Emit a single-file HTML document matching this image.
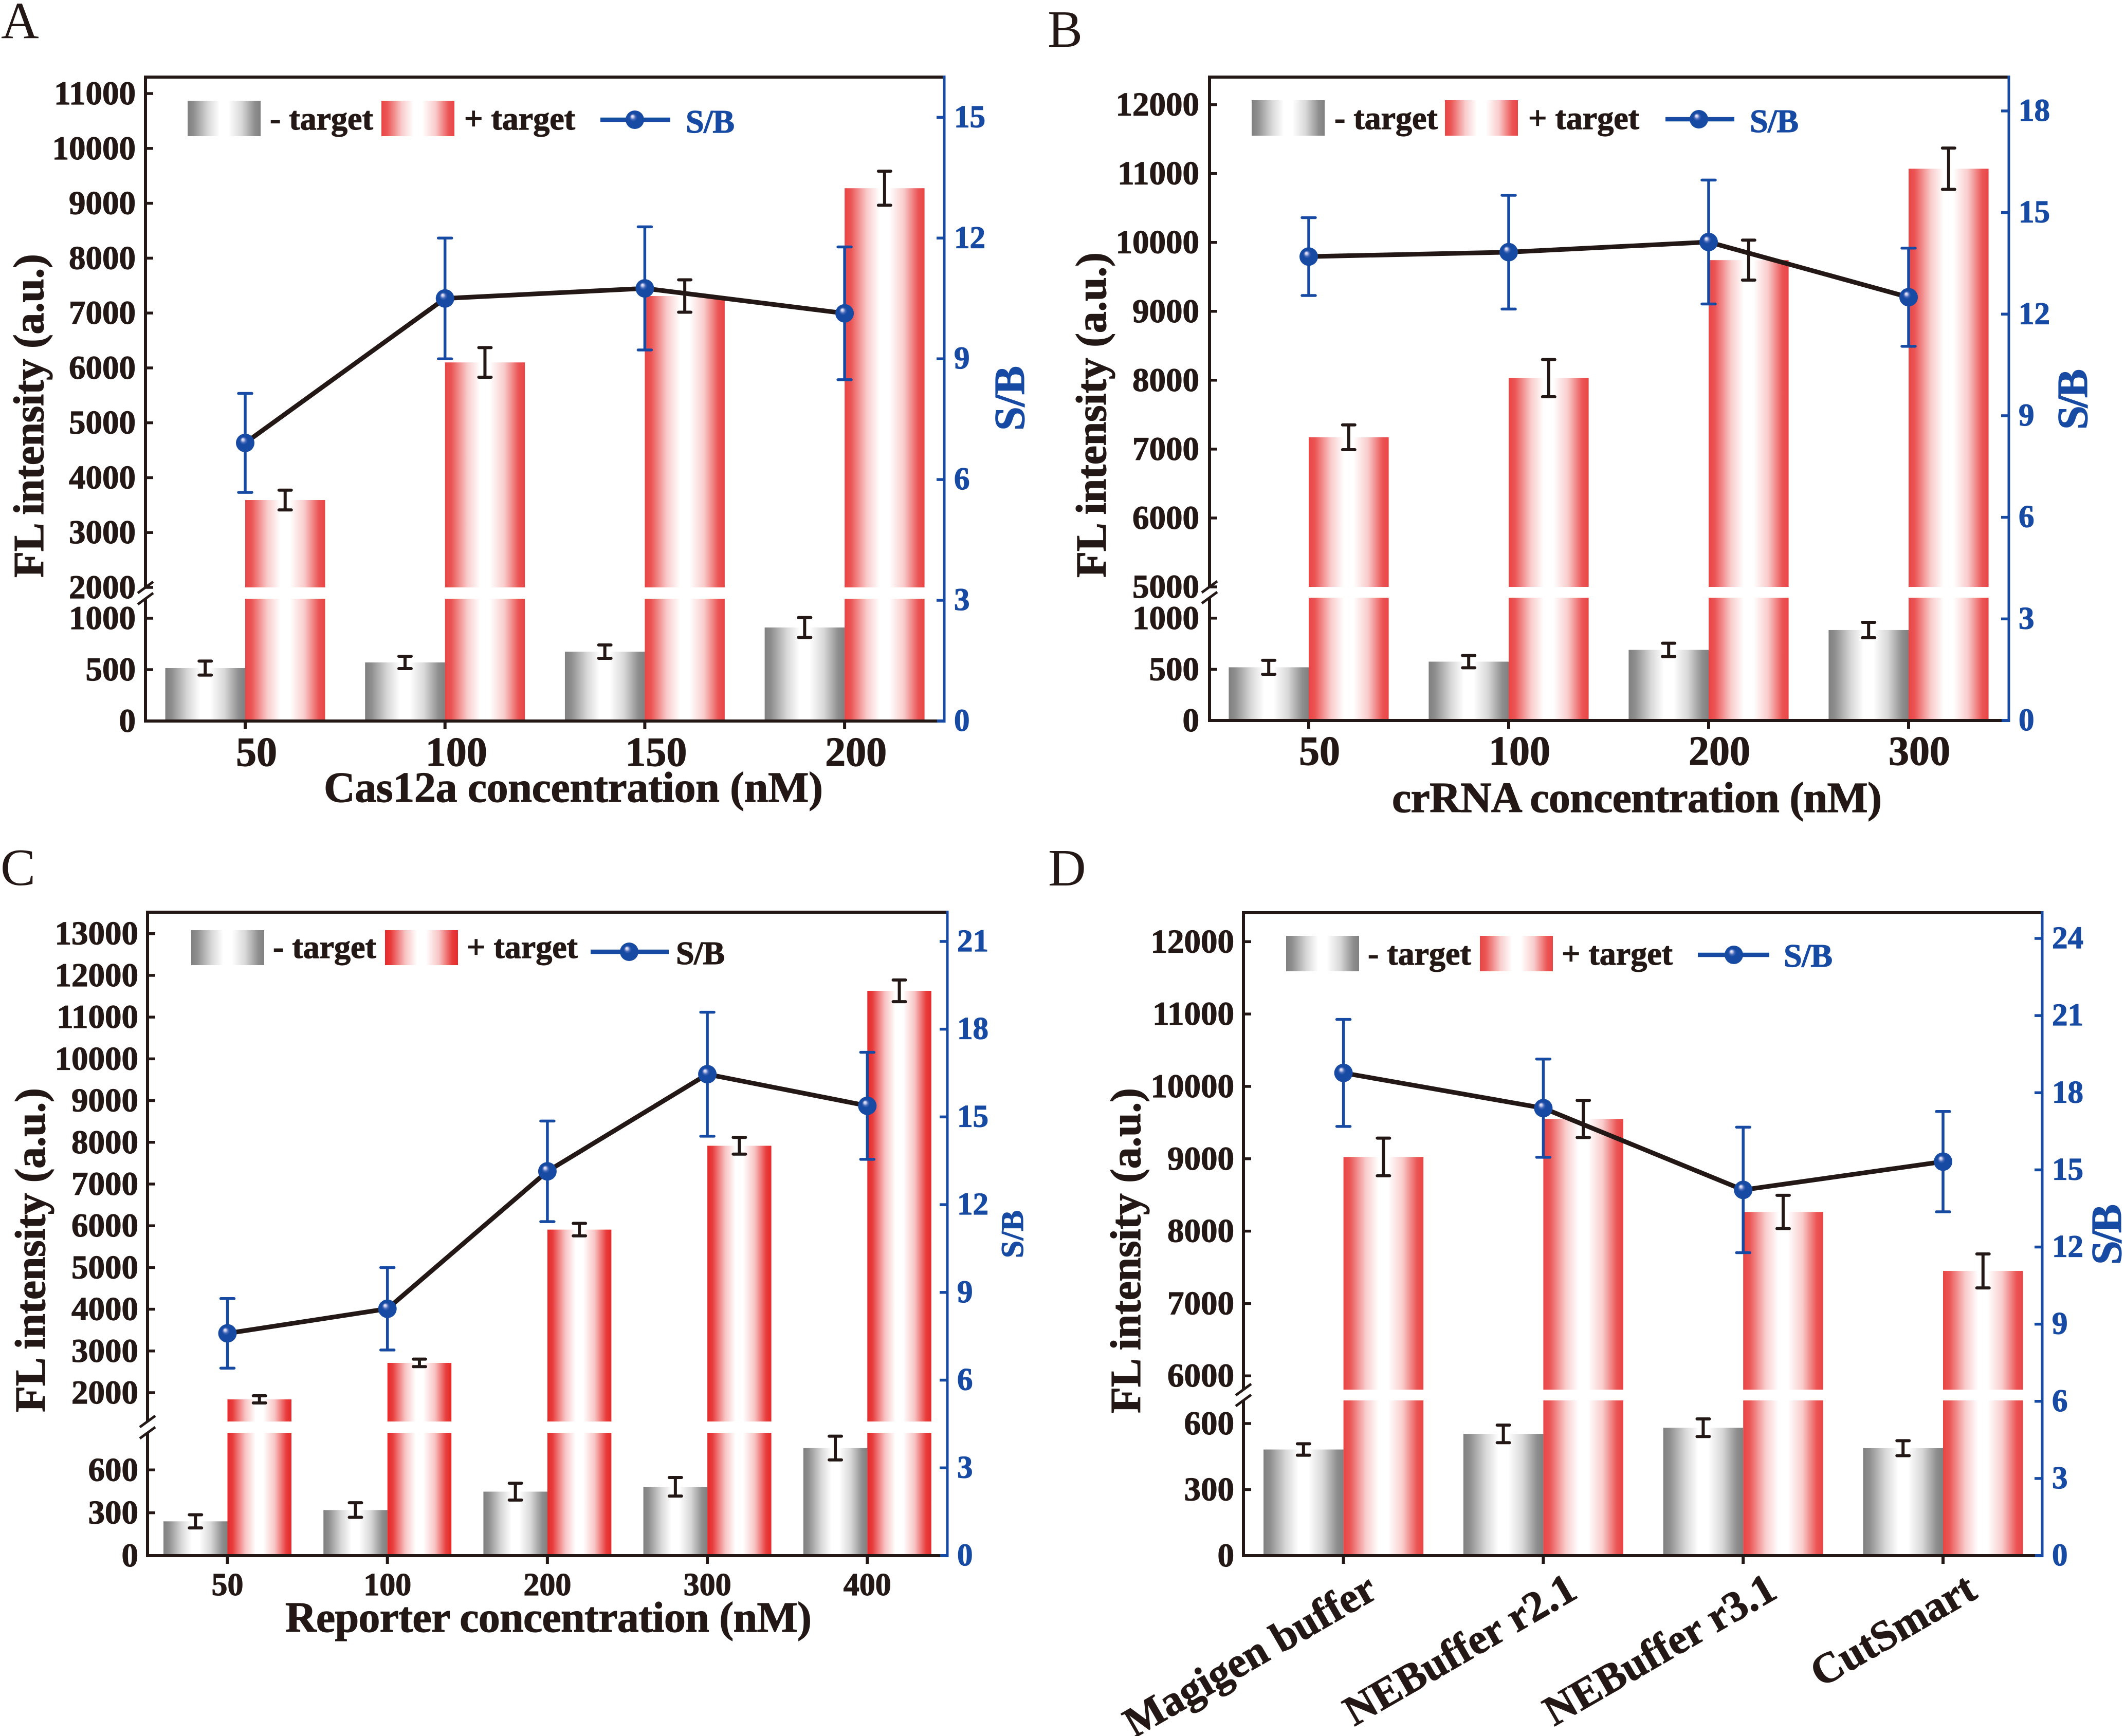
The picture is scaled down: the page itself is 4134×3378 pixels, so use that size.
<!DOCTYPE html>
<html lang="en">
<head>
<meta charset="utf-8">
<title>FL intensity and S/B optimisation panels</title>
<style>
html,body{margin:0;padding:0;background:#fff}
svg{display:block}
text{font-family:"Liberation Serif",serif;font-weight:bold;fill:#231815;stroke:#231815;stroke-width:1.2}
.blue{fill:#174aa3;stroke:#174aa3}
.panel-letter{font-weight:normal;font-size:102px;stroke:none}
.leg{font-size:64px}
.axt{font-size:84px}
</style>
</head>
<body>
<svg id="figure" xmlns="http://www.w3.org/2000/svg" width="4134" height="3378" viewBox="0 0 4134 3378">
<defs>
<linearGradient id="grayBar"><stop offset="0" stop-color="#808080"/><stop offset=".08" stop-color="#8e8e8e"/><stop offset=".28" stop-color="#d8d8d8"/><stop offset=".44" stop-color="#fff"/><stop offset=".56" stop-color="#fff"/><stop offset=".74" stop-color="#d8d8d8"/><stop offset=".92" stop-color="#8e8e8e"/><stop offset="1" stop-color="#808080"/></linearGradient>
<linearGradient id="redBar"><stop offset="0" stop-color="#e94545"/><stop offset=".08" stop-color="#eb5555"/><stop offset=".28" stop-color="#f9cccc"/><stop offset=".44" stop-color="#fff"/><stop offset=".56" stop-color="#fff"/><stop offset=".74" stop-color="#f9cccc"/><stop offset=".92" stop-color="#eb5555"/><stop offset="1" stop-color="#e94545"/></linearGradient>
<linearGradient id="redBarC"><stop offset="0" stop-color="#e62a2a"/><stop offset=".08" stop-color="#e83c3c"/><stop offset=".28" stop-color="#f8c4c4"/><stop offset=".44" stop-color="#fff"/><stop offset=".56" stop-color="#fff"/><stop offset=".74" stop-color="#f8c4c4"/><stop offset=".92" stop-color="#e83c3c"/><stop offset="1" stop-color="#e62a2a"/></linearGradient>
<radialGradient id="ball" cx=".5" cy=".5" r=".55" fx=".36" fy=".3"><stop offset="0" stop-color="#f6f6ff"/><stop offset=".12" stop-color="#c4c8e8"/><stop offset=".26" stop-color="#4468b8"/><stop offset=".4" stop-color="#174aa3"/><stop offset="1" stop-color="#174aa3"/></radialGradient>
</defs>

<g id="panel-a">
<text class="panel-letter" x="2" y="74">A</text>
<g id="marks-a"></g>
<g>
<rect x="365" y="196" width="142" height="69" fill="url(#grayBar)"/>
<text class="leg" x="525" y="252">- target</text>
<rect x="742" y="196" width="142" height="69" fill="url(#redBar)"/>
<text class="leg" x="903" y="252">+ target</text>
<line x1="1168" x2="1304" y1="233" y2="233" stroke="#174aa3" stroke-width="8.5"/>
<circle cx="1235" cy="233" r="18" fill="url(#ball)"/>
<text class="leg blue" x="1334" y="258" textLength="95">S/B</text>
</g>
<text class="axt" transform="translate(84,1124) rotate(-90)" textLength="630">FL intensity (a.u.)</text>
<text class="axt blue" transform="translate(1992,838) rotate(-90)" textLength="126">S/B</text>
<text class="axt" x="630" y="1560" textLength="971">Cas12a concentration (nM)</text>
</g>

<g id="panel-b">
<text class="panel-letter" x="2038" y="91">B</text>
<g id="marks-b"></g>
<g>
<rect x="2435" y="195" width="142" height="69" fill="url(#grayBar)"/>
<text class="leg" x="2596" y="251">- target</text>
<rect x="2811" y="195" width="142" height="69" fill="url(#redBar)"/>
<text class="leg" x="2973" y="251">+ target</text>
<line x1="3240" x2="3374" y1="232" y2="232" stroke="#174aa3" stroke-width="8.5"/>
<circle cx="3305" cy="232" r="18" fill="url(#ball)"/>
<text class="leg blue" x="3404" y="257" textLength="95">S/B</text>
</g>
<text class="axt" transform="translate(2151,1124) rotate(-90)" textLength="633">FL intensity (a.u.)</text>
<text class="axt blue" transform="translate(4060,836) rotate(-90)" textLength="118">S/B</text>
<text class="axt" x="2708" y="1580" textLength="953">crRNA concentration (nM)</text>
</g>

<g id="panel-c">
<text class="panel-letter" x="1" y="1722">C</text>
<g id="marks-c"></g>
<g>
<rect x="372" y="1810" width="142" height="68" fill="url(#grayBar)"/>
<text class="leg" x="531" y="1864">- target</text>
<rect x="749" y="1810" width="142" height="68" fill="url(#redBarC)"/>
<text class="leg" x="908" y="1864">+ target</text>
<line x1="1149" x2="1301" y1="1852" y2="1852" stroke="#174aa3" stroke-width="8.5"/>
<circle cx="1224" cy="1852" r="18" fill="url(#ball)"/>
<text class="leg" x="1315" y="1876" textLength="95">S/B</text>
</g>
<text class="axt" transform="translate(87,2748) rotate(-90)" textLength="631">FL intensity (a.u.)</text>
<text class="blue" font-size="61" transform="translate(1990,2448) rotate(-90)" textLength="93">S/B</text>
<text class="axt" x="555" y="3175" textLength="1024">Reporter concentration (nM)</text>
</g>

<g id="panel-d">
<text class="panel-letter" x="2039" y="1723">D</text>
<g id="marks-d"></g>
<g>
<rect x="2502" y="1821" width="142" height="69" fill="url(#grayBar)"/>
<text class="leg" x="2661" y="1877">- target</text>
<rect x="2879" y="1821" width="142" height="69" fill="url(#redBar)"/>
<text class="leg" x="3038" y="1877">+ target</text>
<line x1="3303" x2="3442" y1="1858" y2="1858" stroke="#174aa3" stroke-width="8.5"/>
<circle cx="3373" cy="1858" r="18" fill="url(#ball)"/>
<text class="leg blue" x="3470" y="1881" textLength="95">S/B</text>
</g>
<text class="axt" transform="translate(2218,2750) rotate(-90)" textLength="633">FL intensity (a.u.)</text>
<text class="axt blue" transform="translate(4126,2461) rotate(-90)" textLength="118">S/B</text>
</g>
</svg>

<script>
// ---- Panel A values ----
const panelACategories = ['50', '100', '150', '200'];
const panelANegative = [515, 570, 675, 910];
const panelANegativeError = [68, 60, 65, 97];
const panelAPositive = [3592, 6100, 7310, 9275];
const panelAPositiveError = [180, 270, 295, 310];
const panelASb = [6.91, 10.5, 10.75, 10.13];
const panelASbError = [1.23, 1.5, 1.53, 1.65];
const panelAUpperTicks = [2000, 3000, 4000, 5000, 6000, 7000, 8000, 9000, 10000, 11000];
const panelALowerTicks = [0, 500, 1000];
const panelARightTicks = [0, 3, 6, 9, 12, 15];

// ---- Panel B values ----
const panelBCategories = ['50', '100', '200', '300'];
const panelBNegative = [520, 575, 690, 884];
const panelBNegativeError = [68, 60, 65, 75];
const panelBPositive = [7172, 8030, 9743, 11070];
const panelBPositiveError = [180, 270, 290, 300];
const panelBSb = [13.7, 13.83, 14.13, 12.5];
const panelBSbError = [1.15, 1.68, 1.83, 1.45];
const panelBUpperTicks = [5000, 6000, 7000, 8000, 9000, 10000, 11000, 12000];
const panelBLowerTicks = [0, 500, 1000];
const panelBRightTicks = [0, 3, 6, 9, 12, 15, 18];

// ---- Panel C values ----
const panelCCategories = ['50', '100', '200', '300', '400'];
const panelCNegative = [240, 319, 448, 482, 753];
const panelCNegativeError = [46, 51, 59, 65, 83];
const panelCPositive = [1840, 2714, 5908, 7917, 11630];
const panelCPositiveError = [85, 90, 150, 200, 260];
const panelCSb = [7.6, 8.44, 13.14, 16.46, 15.38];
const panelCSbError = [1.19, 1.41, 1.72, 2.12, 1.83];
const panelCUpperTicks = [2000, 3000, 4000, 5000, 6000, 7000, 8000, 9000, 10000, 11000, 12000, 13000];
const panelCLowerTicks = [0, 300, 600];
const panelCRightTicks = [0, 3, 6, 9, 12, 15, 18, 21];

// ---- Panel D values ----
const panelDCategories = ['Magigen buffer', 'NEBuffer r2.1', 'NEBuffer r3.1', 'CutSmart'];
const panelDNegative = [482, 553, 581, 488];
const panelDNegativeError = [26, 40, 40, 34];
const panelDPositive = [9025, 9550, 8265, 7450];
const panelDPositiveError = [260, 256, 230, 235];
const panelDSb = [18.77, 17.4, 14.22, 15.32];
const panelDSbError = [2.08, 1.91, 2.44, 1.95];
const panelDUpperTicks = [6000, 7000, 8000, 9000, 10000, 11000, 12000];
const panelDLowerTicks = [0, 300, 600];
const panelDRightTicks = [0, 3, 6, 9, 12, 15, 18, 21, 24];

const SVGNS = 'http://www.w3.org/2000/svg';
const INK = '#231815';
const BLUE = '#174aa3';

function make(tag, parent, attrs, content) {
  const node = document.createElementNS(SVGNS, tag);
  for (const key in attrs) node.setAttribute(key, attrs[key]);
  if (content !== undefined) node.textContent = content;
  parent.appendChild(node);
  return node;
}

function linearScale(d0, d1, r0, r1) {
  return function (v) { return r0 + (v - d0) * (r1 - r0) / (d1 - d0); };
}

function drawPanel(p) {
  const g = document.getElementById(p.layer);
  const lower = linearScale(0, p.lowerMax, p.bottom, p.gapBottom);
  const upper = linearScale(p.upperMin, p.upperMax, p.gapTop, p.top);
  const right = linearScale(0, p.rightMax, p.bottom, p.top);
  const xAt = function (i) { return p.firstTick + i * p.step; };
  const barW = p.step * 0.4;

  // bars
  p.categories.forEach(function (cat, i) {
    const x = xAt(i);
    const yn = lower(p.negative[i]);
    const neg = make('rect', g, { x: x - barW, y: yn, width: barW, height: p.bottom - yn, fill: 'url(#grayBar)' });
    
    

    const lowPart = make('rect', g, { x: x, y: p.gapBottom, width: barW, height: p.bottom - p.gapBottom, fill: 'url(#' + p.redId + ')' });
    
    

    const yp = upper(p.positive[i]);
    const highPart = make('rect', g, { x: x, y: yp, width: barW, height: p.gapTop - yp, fill: 'url(#' + p.redId + ')' });
    
    
  });

  // black error bars
  function blackError(cx, yTop, yBot) {
    const path = 'M' + (cx - 12) + ' ' + yTop + 'H' + (cx + 12) + 'M' + cx + ' ' + yTop + 'V' + yBot + 'M' + (cx - 12) + ' ' + yBot + 'H' + (cx + 12);
    const err = make('path', g, { d: path, fill: 'none', stroke: INK, 'stroke-width': 6, 'stroke-linecap': 'round' });
    
    
  }
  p.categories.forEach(function (cat, i) {
    const x = xAt(i);
    blackError(x - barW / 2, lower(p.negative[i] + p.negativeError[i]), lower(p.negative[i] - p.negativeError[i]));
    blackError(x + barW / 2, upper(p.positive[i] + p.positiveError[i]), upper(p.positive[i] - p.positiveError[i]));
  });

  // blue S/B error bars
  p.categories.forEach(function (cat, i) {
    const x = xAt(i);
    const t = right(p.sb[i] + p.sbError[i]);
    const b = right(p.sb[i] - p.sbError[i]);
    const path = 'M' + (x - 13) + ' ' + t + 'H' + (x + 13) + 'M' + x + ' ' + t + 'V' + b + 'M' + (x - 13) + ' ' + b + 'H' + (x + 13);
    const err = make('path', g, { d: path, fill: 'none', stroke: BLUE, 'stroke-width': 5.5, 'stroke-linecap': 'round' });
    
    
  });

  // S/B line
  const pts = p.sb.map(function (v, i) { return xAt(i) + ',' + right(v); }).join(' ');
  const line = make('polyline', g, { points: pts, fill: 'none', stroke: INK, 'stroke-width': 9, 'stroke-linejoin': 'round' });
  
  

  // S/B markers
  p.sb.forEach(function (v, i) {
    const dot = make('circle', g, { cx: xAt(i), cy: right(v), r: 18, fill: 'url(#ball)' });
    
    
  });

  // frame and axes
  const frameTop = make('line', g, { x1: p.left - 3, x2: p.right, y1: p.top, y2: p.top, stroke: INK, 'stroke-width': 6 });
  
  

  const axisUp = make('line', g, { x1: p.left, x2: p.left, y1: p.top, y2: p.gapTop, stroke: INK, 'stroke-width': 6 });
  
  

  const axisLow = make('line', g, { x1: p.left, x2: p.left, y1: p.gapBottom, y2: p.bottom + 3, stroke: INK, 'stroke-width': 6 });
  
  

  [p.gapTop, p.gapBottom].forEach(function (y) {
    const slash = make('line', g, { x1: p.left - 15, y1: y + 11, x2: p.left + 15, y2: y - 11, stroke: INK, 'stroke-width': 5 });
    
    
  });

  const axisX = make('line', g, { x1: p.left - 3, x2: p.right - 14, y1: p.bottom, y2: p.bottom, stroke: INK, 'stroke-width': 6 });
  
  

  const axisXEnd = make('line', g, { x1: p.right - 14, x2: p.right + 2, y1: p.bottom, y2: p.bottom, stroke: BLUE, 'stroke-width': 6 });
  
  

  const axisR = make('line', g, { x1: p.right, x2: p.right, y1: p.top - 3, y2: p.bottom + 3, stroke: BLUE, 'stroke-width': 5 });
  
  

  // left ticks
  function leftTick(y, label) {
    const tick = make('line', g, { x1: p.left, x2: p.left + 15, y1: y, y2: y, stroke: INK, 'stroke-width': 5.5 });
    
    
    const text = make('text', g, { x: p.labelRight, y: y + 21, 'text-anchor': 'end', 'font-size': 65 }, String(label));
    
    
  }
  p.upperTicks.forEach(function (v) { leftTick(upper(v), v); });
  p.lowerTicks.forEach(function (v) { if (v > 0) leftTick(lower(v), v); });
  const zero = make('text', g, { x: p.labelRight, y: p.bottom + 21, 'text-anchor': 'end', 'font-size': 65 }, '0');
  
  

  // right ticks
  p.rightTicks.forEach(function (v) {
    const y = right(v);
    if (v > 0) {
      const tick = make('line', g, { x1: p.right - 15, x2: p.right, y1: y, y2: y, stroke: BLUE, 'stroke-width': 5.5 });
      
      
    }
    const text = make('text', g, { x: p.right + 19, y: y + 19, 'font-size': 61, class: 'blue' }, String(v));
    
    
  });

  // x ticks
  p.categories.forEach(function (cat, i) {
    const x = xAt(i);
    const tick = make('line', g, { x1: x, x2: x, y1: p.bottom, y2: p.bottom + 16, stroke: INK, 'stroke-width': 6 });
    
    
    let text;
    if (p.rotate) {
      const lx = x + 70;
      const ly = p.xLabelY;
      text = make('text', g, { x: lx, y: ly, 'text-anchor': 'end', 'font-size': p.xFont, transform: 'rotate(-30 ' + lx + ' ' + ly + ')' }, cat);
    } else {
      text = make('text', g, { x: x + p.xLabelShift, y: p.xLabelY, 'text-anchor': 'middle', 'font-size': p.xFont }, cat);
    }
    
    
  });
}

drawPanel({
  layer: 'marks-a', redId: 'redBar',
  categories: panelACategories, negative: panelANegative, negativeError: panelANegativeError,
  positive: panelAPositive, positiveError: panelAPositiveError, sb: panelASb, sbError: panelASbError,
  upperTicks: panelAUpperTicks, lowerTicks: panelALowerTicks, rightTicks: panelARightTicks,
  left: 283, right: 1837, top: 150, bottom: 1403, gapTop: 1143, gapBottom: 1165,
  upperMin: 2000, upperMax: 11300, lowerMax: 1190, rightMax: 16,
  firstTick: 477, step: 388.7, labelRight: 264, xFont: 80, xLabelY: 1490, xLabelShift: 22
});
drawPanel({
  layer: 'marks-b', redId: 'redBar',
  categories: panelBCategories, negative: panelBNegative, negativeError: panelBNegativeError,
  positive: panelBPositive, positiveError: panelBPositiveError, sb: panelBSb, sbError: panelBSbError,
  upperTicks: panelBUpperTicks, lowerTicks: panelBLowerTicks, rightTicks: panelBRightTicks,
  left: 2353, right: 3908, top: 150, bottom: 1402, gapTop: 1142, gapBottom: 1163,
  upperMin: 5000, upperMax: 12400, lowerMax: 1200, rightMax: 19,
  firstTick: 2546, step: 389, labelRight: 2333, xFont: 80, xLabelY: 1488, xLabelShift: 21
});
drawPanel({
  layer: 'marks-c', redId: 'redBarC',
  categories: panelCCategories, negative: panelCNegative, negativeError: panelCNegativeError,
  positive: panelCPositive, positiveError: panelCPositiveError, sb: panelCSb, sbError: panelCSbError,
  upperTicks: panelCUpperTicks, lowerTicks: panelCLowerTicks, rightTicks: panelCRightTicks,
  left: 287, right: 1843, top: 1775, bottom: 3027, gapTop: 2766, gapBottom: 2788,
  upperMin: 1310, upperMax: 13514, lowerMax: 860, rightMax: 22,
  firstTick: 442.5, step: 311.2, labelRight: 269, xFont: 62, xLabelY: 3104, xLabelShift: 0
});
drawPanel({
  layer: 'marks-d', redId: 'redBar',
  categories: panelDCategories, negative: panelDNegative, negativeError: panelDNegativeError,
  positive: panelDPositive, positiveError: panelDPositiveError, sb: panelDSb, sbError: panelDSbError,
  upperTicks: panelDUpperTicks, lowerTicks: panelDLowerTicks, rightTicks: panelDRightTicks,
  left: 2419, right: 3973, top: 1776, bottom: 3027, gapTop: 2704, gapBottom: 2725,
  upperMin: 5810, upperMax: 12400, lowerMax: 705, rightMax: 25,
  firstTick: 2613.6, step: 388.8, labelRight: 2401, xFont: 83, xLabelY: 3107, rotate: true
});
</script>
</body>
</html>
